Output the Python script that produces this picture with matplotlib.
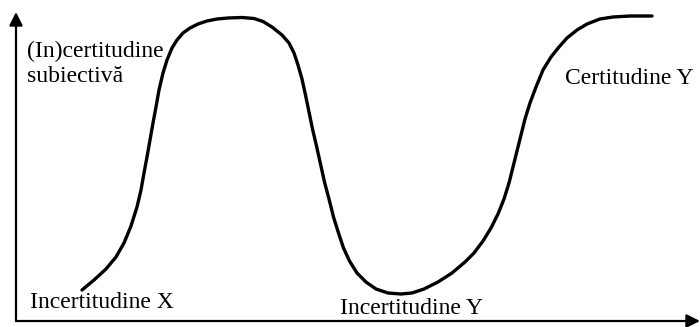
import matplotlib
matplotlib.use("Agg")
from matplotlib import pyplot as plt

# traced curve: horizontal progress vs subjective (un)certainty level
progress = [66, 78, 90, 100, 108, 115, 121, 125, 128, 131, 134, 137, 140, 143, 147,
            151, 156, 161, 167, 174, 182, 191, 201, 212, 226, 238, 247, 256, 266, 273, 278,
            282, 286, 289.5, 293, 296.5, 300.5, 304.5, 308.5, 313, 317.5, 322.5, 327.5,
            333.5, 341, 350, 360, 372, 385, 396, 408, 422, 436, 449, 458, 467, 475,
            482, 488, 493, 497, 501, 505, 509, 514, 520, 527, 535, 543, 551, 561, 571,
            584, 597, 614, 636]
certainty = [31, 41, 52, 64, 78, 95, 114, 131, 148, 164, 181, 198, 214, 231, 248,
             261, 273, 281, 288, 293, 297, 300, 302, 303, 303.5, 302.5, 299.5, 294, 286, 278, 268,
             256, 242, 226, 209, 192, 175, 157, 139, 122, 104, 88, 73,
             60, 48, 39, 32, 28, 27, 28, 32, 39, 48, 59, 68, 80, 93,
             107, 122, 138, 154, 170, 186, 202, 218, 234, 251, 264, 274, 283, 291, 297,
             302, 304, 305, 305]

label_top = "(In)certitudine"
label_top2 = "subiectivă"
label_cert_y = "Certitudine Y"
label_unc_x = "Incertitudine X"
label_unc_y = "Incertitudine Y"

fig = plt.figure(figsize=(7, 3.27), dpi=100)
ax = fig.add_axes([0, 0, 1, 1])
ax.set_xlim(-16, 684)
ax.set_ylim(-6, 321)
ax.axis('off')

# axes with arrows
arrow = dict(arrowstyle='-|>', lw=1.6, color='black', mutation_scale=20,
             shrinkA=0, shrinkB=0)
ax.annotate('', xy=(684, 0), xytext=(0, 0), arrowprops=arrow)
ax.annotate('', xy=(0, 309), xytext=(0, 0), arrowprops=arrow)

ax.plot(progress, certainty, color='black', lw=2.4,
        solid_joinstyle='round', solid_capstyle='round')

font = dict(family='Liberation Serif', fontsize=17, color='black', va='center')
ax.text(11, 270, label_top, **font)
ax.text(11, 244, label_top2, **font)
ax.text(549, 242, label_cert_y, **font)
ax.text(14, 19, label_unc_x, **font)
ax.text(324, 13, label_unc_y, **font)

fig.savefig("out.png", dpi=100)
